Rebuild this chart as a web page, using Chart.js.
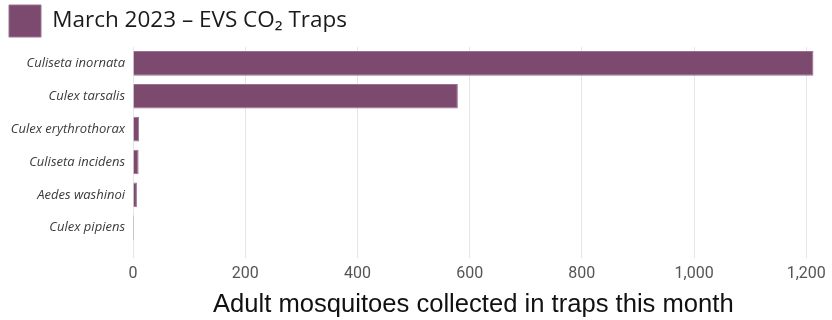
<!DOCTYPE html>
<html>
<head>
<meta charset="utf-8">
<script src="https://cdn.jsdelivr.net/npm/chart.js@4"></script>
<style>
  body { margin: 0; background: #fff; }
  canvas { display: block; }
</style>
</head>
<body>
<canvas id="trapChart" width="832" height="320"></canvas>
<script>
// species on the y axis, counts for the month
const species = ["Culiseta inornata", "Culex tarsalis", "Culex erythrothorax", "Culiseta incidens", "Aedes washinoi", "Culex pipiens"];
const counts = [1213, 579, 11, 10, 7, 2];
const xTicks = [0, 200, 400, 600, 800, 1000, 1200];
const seriesLabel = "March 2023 \u2013 EVS CO\u2082 Traps";
const xTitle = "Adult mosquitoes collected in traps this month";

const barColor = "#7c4a6f";

const trapChartConfig = {
  type: "bar",
  data: {
    labels: species,
    datasets: [{
      label: seriesLabel,
      data: counts,
      backgroundColor: barColor,
      borderColor: "#9a7190",
      borderWidth: 1,
      barPercentage: 0.75,
      categoryPercentage: 1,
    }],
  },
  options: {
    indexAxis: "y",
    responsive: false,
    animation: false,
    layout: { padding: { left: 4, right: 14, top: 0, bottom: 0 } },
    plugins: {
      tooltip: { enabled: false },
      legend: {
        position: "top",
        align: "start",
        labels: {
          boxWidth: 32,
          boxHeight: 32,
          padding: 5,
          color: "#1a1a1a",
          font: { family: "'Open Sans', sans-serif", size: 22.5 },
        },
      },
    },
    scales: {
      x: {
        min: 0,
        max: 1213,
        afterBuildTicks: function(axis) {
          axis.ticks = xTicks.map(v => ({ value: v }));
        },
        grid: { color: "#e6e6e6", tickLength: 14, drawTicks: true },
        border: { display: false },
        ticks: {
          color: "#555",
          padding: 6,
          font: { family: "'Roboto', sans-serif", size: 16 },
          callback: function(value) { return value.toLocaleString("en-US"); },
        },
        title: {
          display: true,
          text: xTitle,
          color: "#111",
          padding: { top: 0, bottom: 0 },
          font: { family: "'Liberation Sans', Arial, sans-serif", size: 25.6 },
        },
      },
      y: {
        afterFit: function(axis) { axis.width = 129; },
        grid: { display: false, drawTicks: false },
        border: { display: false },
        ticks: {
          color: "#3a3a3a",
          padding: 8,
          font: { family: "'Open Sans', sans-serif", size: 13, style: "italic" },
        },
      },
    },
  },
};

const trapChart = new Chart(document.getElementById("trapChart"), trapChartConfig);
</script>
</body>
</html>
